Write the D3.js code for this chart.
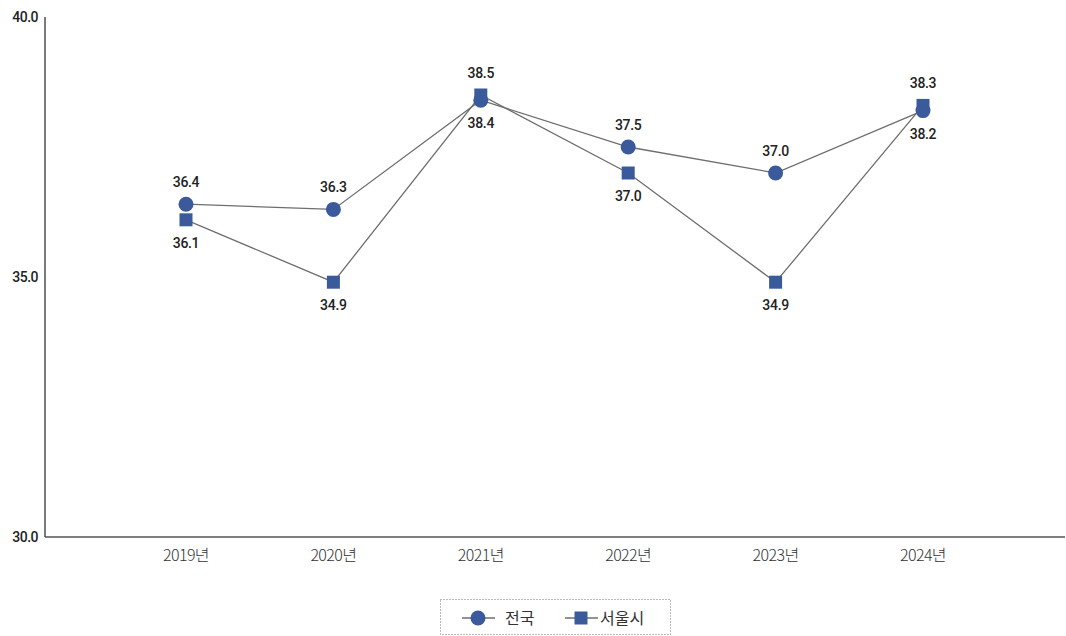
<!DOCTYPE html>
<html><head><meta charset="utf-8">
<script src="https://cdn.jsdelivr.net/npm/d3@7"></script>
<style>
body{margin:0;background:#fff;}
svg{display:block;}
</style></head>
<body><svg id="c" width="1066" height="636"></svg>
<script>
const categories = ["2019년","2020년","2021년","2022년","2023년","2024년"];
const nationValues = [36.4, 36.3, 38.4, 37.5, 37.0, 38.2];
const seoulValues = [36.1, 34.9, 38.5, 37.0, 34.9, 38.3];
const yTicks = [30, 35, 40];
const seriesNames = ["전국", "서울시"];

const svg = d3.select("#c");
const color = "#3b5a9b";
const lineColor = "#6e6e6e";
const numFont = "Roboto, 'Noto Sans', sans-serif";
const krFont = "'Noto Sans CJK KR', sans-serif";

const x = d3.scalePoint().domain(categories).range([186, 923]);
const y = d3.scaleLinear().domain([30, 40]).range([537, 17]);

// axes
svg.append("line").attr("x1", 45).attr("x2", 45).attr("y1", y(40)).attr("y2", y(30))
  .attr("stroke", "#333").attr("stroke-width", 1.3);
svg.append("line").attr("x1", 45).attr("x2", 1065).attr("y1", y(30)).attr("y2", y(30))
  .attr("stroke", "#555").attr("stroke-width", 1.6);

svg.selectAll(".ytick").data(yTicks).enter().append("text")
  .attr("x", 38).attr("y", d => y(d)).attr("dy", "0.35em")
  .attr("text-anchor", "end").attr("font-family", numFont).attr("font-weight", 500)
  .attr("font-size", 14).attr("fill", "#222").attr("letter-spacing", -0.5)
  .text(d => d.toFixed(1));

svg.selectAll(".xtick").data(categories).enter().append("text")
  .attr("x", d => x(d)).attr("y", 555).attr("dy", "0.35em")
  .attr("text-anchor", "middle").attr("font-family", krFont).attr("font-weight", 300)
  .attr("font-size", 16).attr("fill", "#333").attr("letter-spacing", -0.6)
  .text(d => d);

const line = d3.line().x((d, i) => x(categories[i])).y(d => y(d));

svg.append("path").datum(seoulValues).attr("d", line).attr("fill", "none")
  .attr("stroke", lineColor).attr("stroke-width", 1.3);
svg.append("path").datum(nationValues).attr("d", line).attr("fill", "none")
  .attr("stroke", lineColor).attr("stroke-width", 1.3);

// squares (Seoul) first, circles on top
const sq = 13;
svg.selectAll(".sq").data(seoulValues).enter().append("rect")
  .attr("x", (d, i) => x(categories[i]) - sq / 2).attr("y", d => y(d) - sq / 2)
  .attr("width", sq).attr("height", sq).attr("fill", color);
svg.selectAll(".ci").data(nationValues).enter().append("circle")
  .attr("cx", (d, i) => x(categories[i])).attr("cy", d => y(d)).attr("r", 7.5)
  .attr("fill", color);

// labels: higher value above, lower below
function addLabels(vals, other) {
  svg.selectAll(null).data(vals).enter().append("text")
    .attr("x", (d, i) => x(categories[i]))
    .attr("y", (d, i) => y(d) + (d >= other[i] ? -22 : 23))
    .attr("dy", "0.35em").attr("text-anchor", "middle")
    .attr("font-family", numFont).attr("font-weight", 500).attr("font-size", 14)
    .attr("fill", "#222").attr("letter-spacing", -0.3)
    .text(d => d.toFixed(1));
}
addLabels(nationValues, seoulValues.map(v => v));
addLabels(seoulValues, nationValues.map(v => v + 1e-9));

// legend
const lg = svg.append("g");
lg.append("rect").attr("x", 440.5).attr("y", 599.5).attr("width", 230).attr("height", 35)
  .attr("fill", "none").attr("stroke", "#777").attr("stroke-width", 1).attr("stroke-dasharray", "1,2");
const ly = 618;
lg.append("line").attr("x1", 462).attr("x2", 495).attr("y1", ly).attr("y2", ly).attr("stroke", lineColor).attr("stroke-width", 1.3);
lg.append("circle").attr("cx", 478).attr("cy", ly).attr("r", 7.5).attr("fill", color);
lg.append("text").attr("x", 505).attr("y", ly).attr("dy", "0.35em").attr("font-family", krFont)
  .attr("font-size", 16).attr("font-weight", 400).attr("fill", "#333").text(seriesNames[0]);
lg.append("line").attr("x1", 565).attr("x2", 598).attr("y1", ly).attr("y2", ly).attr("stroke", lineColor).attr("stroke-width", 1.3);
lg.append("rect").attr("x", 581 - sq / 2).attr("y", ly - sq / 2).attr("width", sq).attr("height", sq).attr("fill", color);
lg.append("text").attr("x", 600).attr("y", ly).attr("dy", "0.35em").attr("font-family", krFont)
  .attr("font-size", 16).attr("font-weight", 400).attr("fill", "#333").text(seriesNames[1]);
</script></body></html>
